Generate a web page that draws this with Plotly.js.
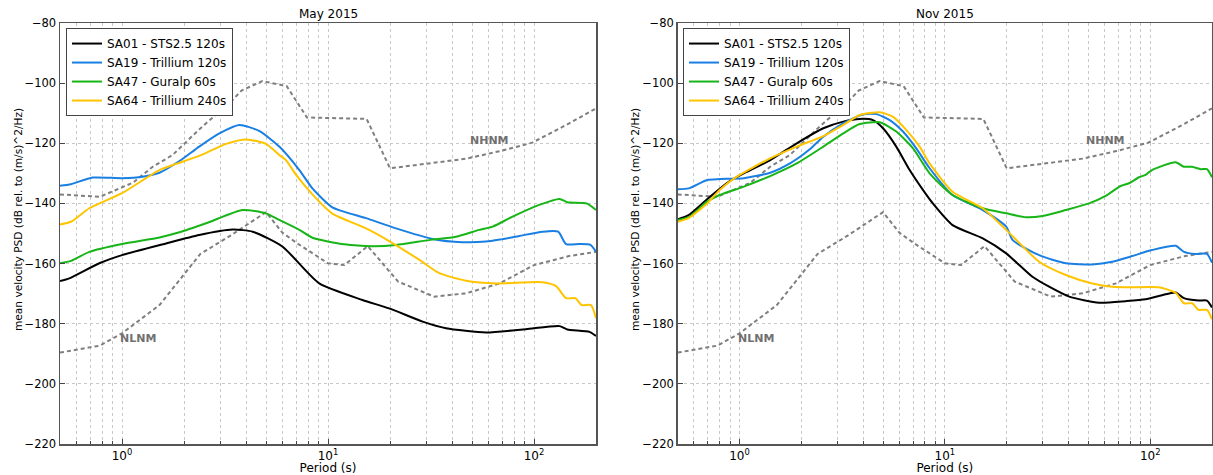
<!DOCTYPE html>
<html>
<head>
<meta charset="utf-8">
<script src="https://cdn.plot.ly/plotly-3.0.1.min.js"></script>
<style>html,body{margin:0;padding:0;background:#fff;}#chart{width:1213px;height:475px;}</style>
</head>
<body>
<div id="chart"></div>
<script>
// ---------- Data (period in s, PSD in dB) ----------
const panelTitles = ["May 2015", "Nov 2015"];
const yTitle = "mean velocity PSD (dB rel. to (m/s)^2/Hz)";
const stationNames = ["SA01 - STS2.5 120s", "SA19 - Trillium 120s", "SA47 - Guralp 60s", "SA64 - Trillium 240s"];
const stationColors = ["#000000", "#1a7fe2", "#17b517", "#ffc400"];

// Peterson noise models
const nhnmT  = [0.5, 0.78, 1.13, 1.41, 1.76, 2.37, 3.44, 3.8, 4.8, 6.3, 7.9, 15.4, 20, 28.8, 47, 68.4, 98, 148, 200];
const nhnmDB = [-137.0, -137.8, -133.1, -127.8, -123.9, -115.4, -105.6, -102.5, -99.3, -101.0, -111.4, -111.9, -128.3, -126.9, -125.1, -122.6, -119.8, -113.4, -108.4];
const nlnmT  = [0.5, 0.78, 1.0, 1.52, 2.4, 3.4, 5.0, 6.0, 7.1, 10, 12, 15.6, 21.9, 32.8, 46.8, 68, 100, 148, 200];
const nlnmDB = [-189.6, -187.3, -183.2, -173.8, -156.8, -150.5, -142.9, -149.7, -153.3, -159.9, -160.5, -154.2, -166.0, -171.0, -169.9, -166.6, -160.5, -157.5, -156.1];
const noiseLabels = ["NHNM", "NLNM"];
const noiseLabelT = [60.7, 1.2];
const noiseLabelDB = [-119, -185];

// May 2015
const maySA01T  = [0.5, 0.555, 0.776, 1.0, 1.635, 2.37, 3.44, 4.31, 6.02, 9.07, 14.7, 19.8, 28.8, 37.4, 58.5, 91.4, 133, 145, 186, 200];
const maySA01DB = [-165.8, -164.9, -159.9, -157.2, -153.3, -150.5, -148.7, -149.4, -154.4, -166.6, -172.1, -174.9, -179.3, -181.5, -182.9, -181.8, -180.8, -181.9, -182.7, -184.1];
const maySA19T  = [0.5, 0.565, 0.72, 1.0, 1.26, 1.52, 1.9, 2.37, 2.97, 3.71, 4.63, 5.8, 7.26, 8.4, 10.5, 15.3, 21.4, 32.2, 45, 58.5, 68.4, 84.9, 110, 131, 143, 166, 188, 200];
const maySA19DB = [-134.1, -133.6, -131.4, -131.6, -131.1, -129.8, -125.9, -121.1, -116.7, -113.9, -115.9, -121.1, -128.9, -135.0, -141.3, -144.9, -148.3, -151.8, -152.9, -152.7, -152.0, -150.8, -149.4, -149.4, -153.5, -153.5, -153.8, -156.1];
const maySA47T  = [0.5, 0.565, 0.694, 1.0, 1.52, 1.9, 2.56, 3.85, 4.99, 5.8, 7.26, 8.4, 12, 16.5, 21.4, 31, 41.8, 54.2, 63, 78.7, 106, 133, 145, 180, 200];
const maySA47DB = [-159.9, -159.1, -156.1, -153.5, -151.3, -149.6, -146.6, -142.2, -143.3, -145.5, -148.8, -151.4, -153.6, -154.2, -153.8, -152.2, -151.1, -148.8, -147.7, -144.4, -140.5, -138.5, -139.6, -140.0, -142.2];
const maySA64T  = [0.5, 0.565, 0.694, 1.0, 1.52, 2.37, 3.2, 4.0, 5.0, 5.8, 6.25, 7.0, 8.4, 10.5, 15.3, 19.8, 27.8, 34.7, 46.8, 65.4, 110, 128, 143, 159, 170, 189, 200];
const maySA64DB = [-147.0, -146.1, -141.6, -136.6, -128.9, -124.2, -120.2, -118.7, -120.2, -123.9, -125.6, -130.5, -137.0, -143.4, -148.3, -152.5, -158.8, -163.2, -165.7, -166.6, -166.2, -167.5, -171.5, -171.5, -173.8, -173.8, -178.2];

// Nov 2015
const novSA01T  = [0.5, 0.565, 0.695, 0.9, 1.05, 1.41, 1.9, 2.56, 3.2, 3.85, 4.47, 5.0, 5.8, 6.74, 7.82, 8.74, 10.9, 15.3, 19.9, 26.7, 32.2, 40.3, 56.4, 76, 95, 114, 133, 146, 172, 189, 200];
const novSA01DB = [-145.3, -143.9, -138.6, -132.5, -130.0, -125.6, -120.0, -115.0, -112.8, -111.9, -112.3, -115.0, -121.1, -128.9, -135.5, -140.0, -147.2, -151.6, -156.6, -164.4, -167.7, -171.0, -173.0, -172.5, -171.9, -170.5, -169.6, -171.5, -172.3, -172.3, -174.6];
const novSA19T  = [0.5, 0.565, 0.695, 0.8, 1.05, 1.41, 1.76, 2.2, 2.56, 3.2, 4.0, 4.64, 5.39, 6.25, 7.26, 8.43, 10.9, 15.3, 19.9, 21.4, 28.8, 38.8, 52.3, 65.4, 81.8, 102, 133, 146, 166, 189, 200];
const novSA19DB = [-135.3, -135.0, -132.2, -131.9, -131.6, -129.8, -126.7, -122.0, -117.8, -113.4, -110.4, -110.3, -112.3, -116.1, -121.7, -128.3, -137.2, -142.2, -147.7, -152.2, -157.2, -159.9, -160.3, -159.4, -157.5, -155.5, -154.1, -156.1, -156.8, -156.8, -159.7];
const novSA47T  = [0.5, 0.565, 0.695, 0.8, 1.05, 1.41, 1.9, 2.56, 3.2, 3.85, 4.82, 5.8, 7.0, 8.43, 10.9, 15.3, 19.9, 24.8, 29.9, 38.8, 50.4, 60.7, 71.8, 78.8, 88.2, 95, 102, 133, 146, 160, 176, 189, 200];
const novSA47DB = [-145.5, -144.6, -139.4, -137.2, -134.4, -130.9, -126.7, -121.1, -116.7, -113.6, -113.0, -116.1, -121.7, -130.0, -137.2, -141.6, -143.3, -144.6, -144.2, -142.2, -140.0, -137.5, -134.2, -133.3, -131.3, -130.5, -128.9, -126.3, -127.8, -127.8, -128.6, -128.6, -131.3];
const novSA64T  = [0.5, 0.565, 0.695, 0.8, 0.97, 1.41, 1.9, 2.56, 3.2, 3.85, 4.82, 5.6, 6.5, 7.54, 8.43, 10.9, 15.3, 19.9, 28.8, 38.8, 52.3, 65.4, 81.8, 110, 133, 146, 160, 172, 189, 200];
const novSA64DB = [-146.1, -144.9, -140.0, -135.5, -131.1, -125.0, -121.1, -117.6, -113.9, -110.6, -109.7, -111.2, -115.6, -121.1, -126.7, -136.1, -141.6, -148.8, -159.4, -163.8, -166.6, -167.7, -167.9, -167.9, -169.7, -173.2, -173.2, -175.4, -175.4, -178.5];

const panelSeries = [
  [[maySA01T, maySA01DB], [maySA19T, maySA19DB], [maySA47T, maySA47DB], [maySA64T, maySA64DB]],
  [[novSA01T, novSA01DB], [novSA19T, novSA19DB], [novSA47T, novSA47DB], [novSA64T, novSA64DB]]
];

// ---------- Build figure ----------
const FONT = "DejaVu Sans, Liberation Sans, sans-serif";
const traces = [];
const axSuffix = ["", "2"];
panelSeries.forEach((series, p) => {
  const xa = "x" + axSuffix[p], ya = "y" + axSuffix[p];
  [[nhnmT, nhnmDB], [nlnmT, nlnmDB]].forEach(([t, d]) => {
    traces.push({x: t, y: d, xaxis: xa, yaxis: ya, type: "scatter", mode: "lines",
      line: {color: "#7f7f7f", width: 2, dash: "4px,3px"}, showlegend: false, hoverinfo: "skip"});
  });
  series.forEach(([t, d], i) => {
    traces.push({x: t, y: d, xaxis: xa, yaxis: ya, type: "scatter", mode: "lines",
      name: stationNames[i], line: {color: stationColors[i], width: 2, shape: "spline", smoothing: 0.6},
      legend: p === 0 ? "legend" : "legend2"});
  });
});

const minorVals = [];
[0.1, 1, 10, 100].forEach(dec => { for (let k = 2; k <= 9; k++) { const v = k * dec; if (v >= 0.5 && v <= 200) minorVals.push(v); } });

function xAxis(domain, anchor) {
  return {
    type: "log", range: [Math.log10(0.5), Math.log10(200)], domain: domain, anchor: anchor,
    tickmode: "array", tickvals: [1, 10, 100], ticktext: ["10<sup>0</sup>", "10<sup>1</sup>", "10<sup>2</sup>"],
    ticks: "inside", ticklen: 5, tickcolor: "#444",
    showgrid: true, gridcolor: "#c8c8c8", griddash: "dot", gridwidth: 1,
    minor: {tickmode: "array", tickvals: minorVals, showgrid: true, gridcolor: "#c8c8c8", griddash: "dot", gridwidth: 1, ticks: "inside", ticklen: 3, tickcolor: "#444"},
    showline: true, mirror: true, linecolor: "#555", linewidth: 1.5, zeroline: false,
    tickfont: {family: FONT, size: 12, color: "#000"},
    title: {text: "Period (s)", font: {family: FONT, size: 12, color: "#000"}, standoff: 2}
  };
}
function yAxis(anchor) {
  return {
    range: [-220, -80], anchor: anchor, tickvals: [-220, -200, -180, -160, -140, -120, -100, -80],
    ticks: "inside", ticklen: 5, tickcolor: "#444",
    showgrid: true, gridcolor: "#c8c8c8", griddash: "dot", gridwidth: 1,
    showline: true, mirror: true, linecolor: "#555", linewidth: 1.5, zeroline: false,
    tickfont: {family: FONT, size: 11.5, color: "#000"}
  };
}

const leftDom = [0, 0.4653], rightDom = [0.5362, 1];
const yTitleX = [-0.0365, 0.4991];
const annotations = [];
panelTitles.forEach((t, p) => {
  const dom = p === 0 ? leftDom : rightDom;
  annotations.push({text: t, xref: "paper", yref: "paper", x: (dom[0] + dom[1]) / 2, y: 1, yanchor: "bottom",
    xanchor: "center", showarrow: false, font: {family: FONT, size: 12, color: "#000"}});
  annotations.push({text: yTitle, xref: "paper", yref: "paper", x: yTitleX[p], y: 0.5344, textangle: -90,
    xanchor: "center", yanchor: "middle", showarrow: false, font: {family: FONT, size: 10.6, color: "#000"}});
  noiseLabels.forEach((lbl, k) => {
    annotations.push({text: "<b>" + lbl + "</b>", xref: "x" + axSuffix[p], yref: "y" + axSuffix[p],
      x: Math.log10(noiseLabelT[k]), y: noiseLabelDB[k], showarrow: false,
      font: {family: FONT, size: 11, color: "#707070"}});
  });
});

const legendStyle = (x) => ({x: x, y: 0.988, xanchor: "left", yanchor: "top", bgcolor: "#fff",
  bordercolor: "#444", borderwidth: 1, font: {family: FONT, size: 12, color: "#000"}, tracegroupgap: 0});

const layout = {
  width: 1213, height: 475, margin: {l: 60, r: 1, t: 23, b: 31},
  paper_bgcolor: "#fff", plot_bgcolor: "#fff", font: {family: FONT, size: 12, color: "#000"},
  xaxis: xAxis(leftDom, "y"), yaxis: yAxis("x"),
  xaxis2: xAxis(rightDom, "y2"), yaxis2: yAxis("x2"),
  legend: legendStyle(0.0052), legend2: legendStyle(0.5408),
  annotations: annotations, showlegend: true
};

Plotly.newPlot("chart", traces, layout, {staticPlot: true, displayModeBar: false});
</script>
</body>
</html>
